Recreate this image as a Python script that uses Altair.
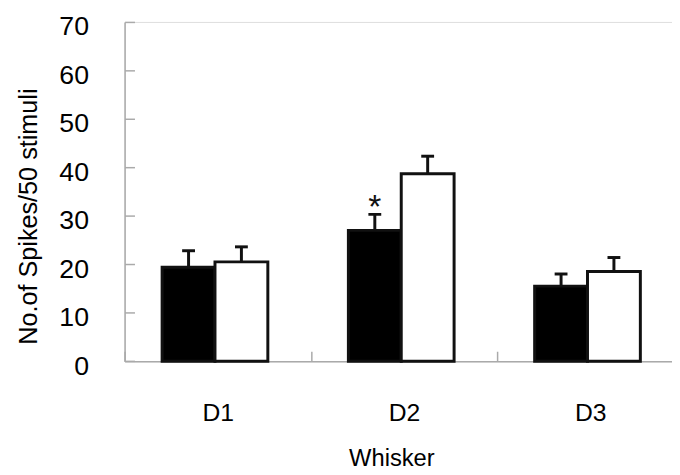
import altair as alt
import pandas as pd

whiskers = ["D1", "D2", "D3"]
groups = ["black", "white"]
black_means = [19.4, 27.0, 15.5]
white_means = [20.5, 38.7, 18.5]
black_upper = [22.8, 30.3, 18.0]
white_upper = [23.6, 42.3, 21.4]
y_ticks = [0, 10, 20, 30, 40, 50, 60, 70]
star_whisker = ["D2"]
star_group = ["black"]
star_value = [33.4]
star_text = ["*"]

rows = []
for i, w in enumerate(whiskers):
    rows.append({"whisker": w, "group": "black", "mean": black_means[i], "upper": black_upper[i]})
    rows.append({"whisker": w, "group": "white", "mean": white_means[i], "upper": white_upper[i]})
df = pd.DataFrame(rows)
star_df = pd.DataFrame({"whisker": star_whisker, "group": star_group,
                        "value": star_value, "text": star_text})

W = 554
H = 343.4
FONT = "Liberation Sans"
AX = "#aaaaaa"
TXT = "#000000"

x_axis = alt.Axis(
    domainColor=AX, domainWidth=1.5, ticks=False, tickSize=0, tickBand="extent",
    grid=True, gridColor=AX, gridWidth=1.5, gridDash=[0, H - 10, 10, 3000],
    labelFont=FONT, labelFontSize=25, labelColor=TXT, labelAngle=0,
    labelPadding=60, labelBaseline="alphabetic",
    titleFont=FONT, titleFontSize=24, titleFontWeight="normal", titleColor=TXT,
    titleX=270, titleY=106, titleBaseline="alphabetic", titleAlign="center",
)
y_axis = alt.Axis(
    values=y_ticks, domainColor=AX, domainWidth=1.5, ticks=False, tickSize=0,
    grid=True, gridColor=AX, gridWidth=1.5, gridDash=[10, 3000],
    labelFont=FONT, labelFontSize=27, labelColor=TXT, labelPadding=36.5, labelOffset=5,
    titleFont=FONT, titleFontSize=25.5, titleFontWeight="normal", titleColor=TXT,
    titleX=-97, titleY=196.5, titleBaseline="middle", titleAlign="center", titleAngle=270,
)

x = alt.X("whisker:N", sort=whiskers, title="Whisker", axis=x_axis,
          scale=alt.Scale(domain=whiskers, range=[0, 565.5], paddingInner=0, paddingOuter=0))
xoff = alt.XOffset("group:N", sort=groups,
                   scale=alt.Scale(domain=groups, paddingInner=0, paddingOuter=0.762, align=0.466))
yscale = alt.Scale(domain=[0, 70], nice=False, zero=True)

bars = alt.Chart(df).mark_bar(stroke="#111111", strokeWidth=3).encode(
    x=x, xOffset=xoff,
    y=alt.Y("mean:Q", scale=yscale, axis=y_axis, title="No.of Spikes/50 stimuli"),
    color=alt.Color("group:N", scale=alt.Scale(domain=groups, range=["#000000", "#ffffff"]), legend=None),
)
err = alt.Chart(df).mark_rule(strokeWidth=3, color="#111111").encode(
    x=x, xOffset=xoff, y=alt.Y("mean:Q", scale=yscale), y2="upper:Q"
)
caps = alt.Chart(df).mark_tick(thickness=3, size=13, color="#111111", opacity=1).encode(
    x=x, xOffset=xoff, y=alt.Y("upper:Q", scale=yscale)
)
star = alt.Chart(star_df).mark_text(font=FONT, fontSize=34, color="#111111", baseline="middle", dy=9).encode(
    x=x, xOffset=xoff, y=alt.Y("value:Q", scale=yscale), text="text:N"
)

chart = alt.layer(bars, err, caps, star).properties(
    width=W, height=H, autosize="none",
    padding={"left": 118, "top": 11.3, "right": 0, "bottom": 112},
).configure_view(stroke=None).configure(font=FONT)

chart.save("out.html", embed_options={"renderer": "svg", "actions": False})
